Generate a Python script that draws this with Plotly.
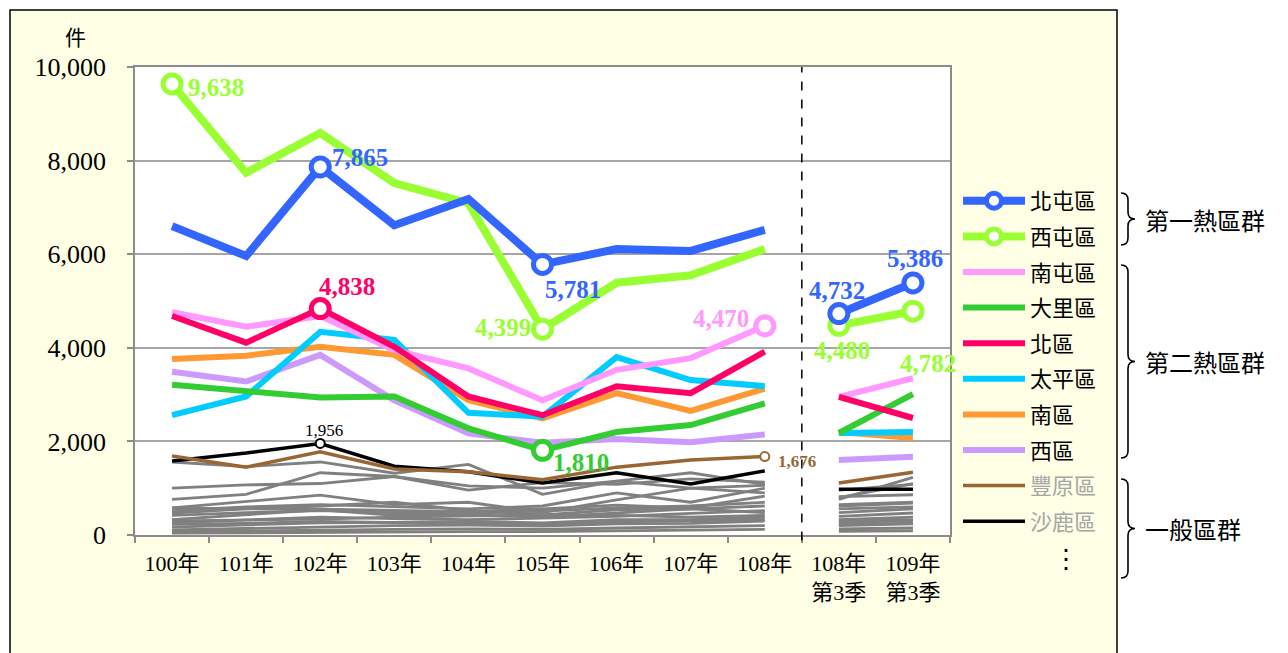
import plotly.graph_objects as go

# ---------------- data ----------------
categories = ["100年", "101年", "102年", "103年", "104年", "105年", "106年", "107年", "108年",
              "108年<br>第3季", "109年<br>第3季"]

beitun   = [6600, 5960, 7865, 6620, 7180, 5781, 6110, 6070, 6520, 4732, 5386]
xitun    = [9638, 7740, 8590, 7520, 7090, 4399, 5390, 5550, 6110, 4480, 4782]
nantun   = [4760, 4450, 4680, 3950, 3560, 2880, 3530, 3780, 4470, 2950, 3350]
dali     = [3210, 3060, 2940, 2960, 2280, 1810, 2200, 2350, 2810, 2180, 3010]
north    = [4680, 4110, 4838, 4020, 2960, 2560, 3180, 3030, 3920, 2950, 2500]
taiping  = [2560, 2960, 4340, 4170, 2610, 2530, 3800, 3310, 3180, 2180, 2200]
south    = [3760, 3830, 4020, 3850, 2880, 2490, 3030, 2650, 3130, 2200, 2070]
west     = [3490, 3280, 3850, 2880, 2170, 1970, 2050, 1980, 2150, 1600, 1670]
fengyuan = [1690, 1450, 1780, 1410, 1350, 1180, 1450, 1600, 1676, 1110, 1340]
shalu    = [1580, 1750, 1956, 1470, 1350, 1110, 1330, 1090, 1370, 980, 980]

others = [
    [1560, 1460, 1560, 1320, 1510, 870, 1150, 1330, 1080, 760, 1230],
    [1000, 1070, 1100, 1250, 1050, 1000, 1150, 1000, 1060, 960, 1080],
    [760, 870, 1330, 1250, 960, 1120, 1080, 1200, 1130, 800, 1100],
    [580, 720, 850, 650, 700, 480, 750, 1000, 900, 650, 700],
    [520, 600, 650, 600, 560, 620, 900, 700, 1000, 560, 600],
    [470, 560, 550, 520, 500, 560, 640, 580, 830, 480, 560],
    [580, 560, 620, 700, 520, 430, 540, 560, 480, 820, 860],
    [420, 480, 520, 480, 460, 510, 580, 620, 700, 620, 680],
    [330, 430, 540, 420, 430, 380, 470, 560, 620, 400, 470],
    [300, 320, 340, 380, 400, 430, 420, 380, 420, 300, 320],
    [260, 320, 380, 350, 330, 360, 400, 460, 520, 330, 380],
    [230, 250, 290, 260, 240, 220, 280, 300, 330, 230, 250],
    [170, 220, 260, 270, 290, 260, 330, 330, 380, 270, 300],
    [110, 140, 180, 200, 210, 190, 240, 250, 300, 200, 240],
    [70, 90, 110, 120, 130, 120, 150, 170, 200, 130, 150],
    [40, 50, 60, 70, 70, 70, 90, 100, 120, 80, 90],
]

# ---------------- styling ----------------
SERIF = "Liberation Serif, Noto Sans CJK TC, serif"
CJK = "Noto Sans CJK TC, Liberation Serif, serif"

# name, values, color, width, legend rank, marker indices, marker style
series = [
    ("沙鹿區", shalu, "#000000", 3.5, 10, [2], "small"),
    ("豐原區", fengyuan, "#996633", 3.5, 9, [8], "small"),
    ("西區", west, "#CC99FF", 6, 8, [], None),
    ("南區", south, "#FF9933", 6, 7, [], None),
    ("太平區", taiping, "#00CCFF", 6, 6, [], None),
    ("大里區", dali, "#33CC33", 6, 4, [5], "big"),
    ("南屯區", nantun, "#FF99FF", 6, 3, [8], "big"),
    ("北區", north, "#FF0066", 6, 5, [2], "big"),
    ("西屯區", xitun, "#99FF33", 8, 2, [0, 5, 9, 10], "big"),
    ("北屯區", beitun, "#3366FF", 8, 1, [2, 5, 9, 10], "big"),
]

N_YEARS = 9  # first block of yearly values, then quarterly block


def with_gap(vals):
    return list(vals[:N_YEARS]) + [None] + list(vals[N_YEARS:])


idx = list(range(len(categories)))
xs = with_gap(idx)

fig = go.Figure()

for g in others:
    fig.add_trace(go.Scatter(x=xs, y=with_gap(g), mode="lines",
                             line=dict(color="#808080", width=2.8),
                             showlegend=False, hoverinfo="skip"))

for name, vals, color, width, rank, midx, mstyle in series:
    legend_name = name
    if name in ("豐原區", "沙鹿區"):
        legend_name = f'<span style="color:#A6A6A6">{name}</span>'
    has_legend_marker = name in ("北屯區", "西屯區")
    fig.add_trace(go.Scatter(x=xs, y=with_gap(vals), mode="lines",
                             line=dict(color=color, width=width),
                             name=legend_name, legendgroup=name, legendrank=rank,
                             showlegend=not has_legend_marker))
    if midx:
        big = mstyle == "big"
        fig.add_trace(go.Scatter(
            x=[idx[i] for i in midx], y=[vals[i] for i in midx], mode="markers",
            marker=dict(symbol="circle", color="white", size=18 if big else 9,
                        line=dict(color=color, width=5 if big else 2)),
            showlegend=False, legendgroup=name, hoverinfo="skip"))
    if has_legend_marker:
        fig.add_trace(go.Scatter(
            x=[None], y=[None], mode="lines+markers", name=legend_name,
            legendgroup=name, legendrank=rank,
            line=dict(color=color, width=8),
            marker=dict(symbol="circle", color="white", size=15,
                        line=dict(color=color, width=5))))

# ---------------- data labels ----------------
# (series values, index, color, xanchor, xshift, yshift, size, bold)
BIG = 25
labels = [
    (xitun, 0, "#99FF33", "left", 14, -4, BIG, True),
    (beitun, 2, "#3366FF", "left", 10, 9, BIG, True),
    (north, 2, "#FF0066", "center", 27, 22, BIG, True),
    (beitun, 5, "#3366FF", "left", 0, -25, BIG, True),
    (xitun, 5, "#99FF33", "right", -10, 2, BIG, True),
    (dali, 5, "#33CC33", "left", 8, -12, BIG, True),
    (nantun, 8, "#FF99FF", "right", -14, 7, BIG, True),
    (shalu, 2, "#000000", "center", 4, 13, 17, False),
    (fengyuan, 8, "#996633", "left", 11, -5, 17, True),
    (beitun, 9, "#3366FF", "center", -2, 23, BIG, True),
    (beitun, 10, "#3366FF", "center", 2, 24, BIG, True),
    (xitun, 9, "#99FF33", "center", 3, -25, BIG, True),
    (xitun, 10, "#99FF33", "center", 15, -52, BIG, True),
]
annotations = []
for vals, i, color, xa, xsh, ysh, size, bold in labels:
    txt = f"{vals[i]:,}"
    if bold:
        txt = f"<b>{txt}</b>"
    annotations.append(dict(x=idx[i], y=vals[i], xref="x", yref="y", text=txt,
                            showarrow=False, xanchor=xa, yanchor="middle",
                            xshift=xsh, yshift=ysh,
                            font=dict(family=SERIF, size=size, color=color)))

# ---------------- layout helpers (page pixel -> paper) ----------------
BODY = 8                     # default page margin around the figure
W, H = 1288 - BODY, 653 - BODY
PL, PR, PT, PB = 135, 950, 67, 535   # plot area in page pixels


def px(x):
    return (x - PL) / (PR - PL)


def py(y):
    return (PB - y) / (PB - PT)


def brace(x0, ytop, ybot, w=7):
    ym = (ytop + ybot) / 2
    pts = [
        ("M", [(x0, ytop)]),
        ("Q", [(x0 + w, ytop), (x0 + w, ytop + w)]),
        ("L", [(x0 + w, ym - w)]),
        ("Q", [(x0 + w, ym), (x0 + 2 * w, ym)]),
        ("Q", [(x0 + w, ym), (x0 + w, ym + w)]),
        ("L", [(x0 + w, ybot - w)]),
        ("Q", [(x0 + w, ybot), (x0, ybot)]),
    ]
    s = ""
    for cmd, p in pts:
        s += cmd + " " + " ".join(f"{px(a):.5f},{py(b):.5f}" for a, b in p) + " "
    return s.strip()


shapes = [
    dict(type="rect", xref="paper", yref="paper", x0=px(10), x1=px(1117), y0=py(720), y1=py(10),
         fillcolor="#FFFFE5", line=dict(color="#000000", width=1.5), layer="below"),
    dict(type="rect", xref="paper", yref="paper", x0=0, x1=1, y0=0, y1=1,
         fillcolor="#FFFFFF", line=dict(width=0), layer="below"),
    dict(type="line", xref="x", yref="paper", x0=N_YEARS - 0.5, x1=N_YEARS - 0.5, y0=-0.012, y1=1,
         line=dict(color="#000000", width=1.5, dash="dash")),
]
for top, bot in [(193, 245), (265, 458), (479, 578)]:
    shapes.append(dict(type="path", xref="paper", yref="paper", path=brace(1121, top, bot),
                       line=dict(color="#000000", width=1.6)))

groups = [("第一熱區群", 220), ("第二熱區群", 361), ("一般區群", 528)]
for text, yc in groups:
    annotations.append(dict(x=px(1143), y=py(yc), xref="paper", yref="paper", text=text,
                            showarrow=False, xanchor="left", yanchor="middle",
                            font=dict(family=CJK, size=24, color="#000000")))

annotations.append(dict(x=px(75), y=py(36), xref="paper", yref="paper", text="件",
                        showarrow=False, xanchor="center", yanchor="middle",
                        font=dict(family=CJK, size=21, color="#000000")))
annotations.append(dict(x=px(1066), y=py(556), xref="paper", yref="paper", text="⋮",
                        showarrow=False, xanchor="center", yanchor="middle",
                        font=dict(family=CJK, size=26, color="#000000")))

fig.update_layout(
    width=W, height=H,
    margin=dict(l=PL - BODY, r=W - (PR - BODY), t=PT - BODY, b=H - (PB - BODY)),
    paper_bgcolor="#FFFFFF",
    plot_bgcolor="#FFFFFF",
    shapes=shapes,
    annotations=annotations,
    legend=dict(x=px(958), y=py(180), xanchor="left", yanchor="top",
                font=dict(family=CJK, size=22, color="#000000"),
                bgcolor="rgba(0,0,0,0)", borderwidth=0,
                traceorder="grouped", tracegroupgap=4, itemwidth=62),
    xaxis=dict(range=[-0.5, len(categories) - 0.5], tickmode="array", tickvals=idx,
               ticktext=categories, ticks="", showgrid=False, zeroline=False,
               showline=True, linecolor="#8C8C8C", linewidth=1.5, mirror=True,
               ticklabelstandoff=8,
               tickfont=dict(family=SERIF, size=22, color="#000000"),
               minor=dict(tickmode="array", tickvals=[i - 0.5 for i in range(len(categories) + 1)],
                          ticks="outside", ticklen=6, tickcolor="#8C8C8C", tickwidth=1.5,
                          showgrid=False)),
    yaxis=dict(range=[0, 10000], tickmode="array", tickvals=[0, 2000, 4000, 6000, 8000, 10000],
               tickformat=",", ticks="outside", ticklen=6, tickcolor="#8C8C8C", tickwidth=1.5,
               showgrid=True, gridcolor="#A6A6A6", gridwidth=1.5, zeroline=False,
               showline=True, linecolor="#8C8C8C", linewidth=1.5, mirror=True,
               ticklabelstandoff=16,
               tickfont=dict(family=SERIF, size=26, color="#000000")),
)

fig.write_html("out.html")
